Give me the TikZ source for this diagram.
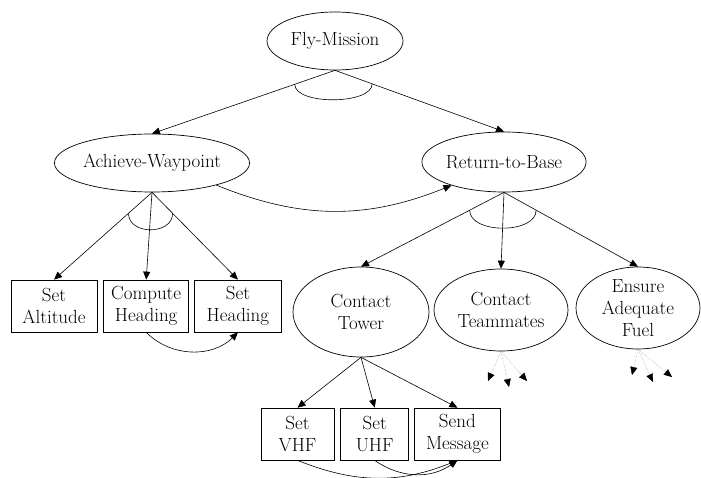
\documentclass[tikz,border=0pt]{standalone}
\usetikzlibrary{shapes.geometric, arrows.meta, positioning}

\begin{document}
\begin{tikzpicture}[
  x=1pt, y=-1pt,
  font=\fontsize{19}{22}\selectfont,
  goal/.style={ellipse, draw, line width=0.7pt, inner sep=0pt, align=center},
  act/.style={rectangle, draw, line width=0.7pt, minimum height=52pt, inner sep=0pt, align=center},
  arrow/.style={-{Triangle[length=8pt, width=7pt]}, line width=0.6pt},
  later/.style={-{Triangle[length=8pt, width=7pt, color=black]}, densely dotted, line width=0.4pt, draw=gray}
]
  \useasboundingbox (0,0) rectangle (701,478);

  \node[goal, minimum width=136pt, minimum height=58pt] (fly) at (335,41) {Fly-Mission};
  \node[goal, minimum width=160pt, minimum height=58pt] (aw) at (152,163) {Achieve-Waypoint};
  \node[goal, minimum width=160pt, minimum height=60pt] (rb) at (504,162) {Return-to-Base};

  \node[act, minimum width=86pt] (sa) at (54,306) {Set\\Altitude};
  \node[act, minimum width=85pt, right=6pt of sa] (ch) {Compute\\Heading};
  \node[act, minimum width=87pt, right=5pt of ch] (sh) {Set\\Heading};

  \node[goal, minimum width=136pt, minimum height=90pt] (ct) at (361,312) {Contact\\Tower};
  \node[goal, minimum width=134pt, minimum height=82pt] (tm) at (501,310) {Contact\\Teammates};
  \node[goal, minimum width=124pt, minimum height=82pt] (ef) at (638,308) {Ensure\\Adequate\\Fuel};

  \node[act, minimum width=73pt] (vhf) at (297.5,434) {Set\\VHF};
  \node[act, minimum width=68pt, right=6pt of vhf] (uhf) {Set\\UHF};
  \node[act, minimum width=86pt, right=5pt of uhf] (msg) {Send\\Message};

  \coordinate (tm1) at (488,381);
  \coordinate (tm2) at (509,387);
  \coordinate (tm3) at (527,381);
  \coordinate (ef1) at (632,375);
  \coordinate (ef2) at (653,382);
  \coordinate (ef3) at (672,377);

  \draw[arrow] (fly.south) -- coordinate[pos=.22] (flyL) (aw.north);
  \draw[arrow] (fly.south) -- coordinate[pos=.22] (flyR) (rb.north);
  \draw[line width=0.6pt] (flyL) .. controls +(0,21) and +(0,21) .. (flyR);

  \draw[arrow] (aw.south) -- coordinate[pos=.24] (awL) (sa.north);
  \draw[arrow] (aw.south) -- (ch.north);
  \draw[arrow] (aw.south) -- coordinate[pos=.24] (awR) (sh.north);
  \draw[line width=0.6pt] (awL) .. controls +(0,22) and +(0,22) .. (awR);

  \draw[arrow] (rb.south) -- coordinate[pos=.24] (rbL) (ct.north);
  \draw[arrow] (rb.south) -- (tm.north);
  \draw[arrow] (rb.south) -- coordinate[pos=.24] (rbR) (ef.north);
  \draw[line width=0.6pt] (rbL) .. controls +(0,24) and +(0,24) .. (rbR);

  \draw[arrow] (ct.south) -- (vhf.north);
  \draw[arrow] (ct.south) -- (uhf.north);
  \draw[arrow] (ct.south) -- (msg.north);

  \draw[arrow] (aw.-19) to[bend right=22] (rb.204);
  \draw[arrow] (ch.south) to[bend right=45] (sh.south);
  \draw[arrow] (vhf.south) to[bend right=22] (msg.south);
  \draw[arrow] (uhf.south) to[bend right=35] (msg.south);

  \draw[later] (tm.south) -- (tm1);
  \draw[later] (tm.south) -- (tm2);
  \draw[later] (tm.south) -- (tm3);
  \draw[later] (ef.south) -- (ef1);
  \draw[later] (ef.south) -- (ef2);
  \draw[later] (ef.south) -- (ef3);
\end{tikzpicture}
\end{document}
